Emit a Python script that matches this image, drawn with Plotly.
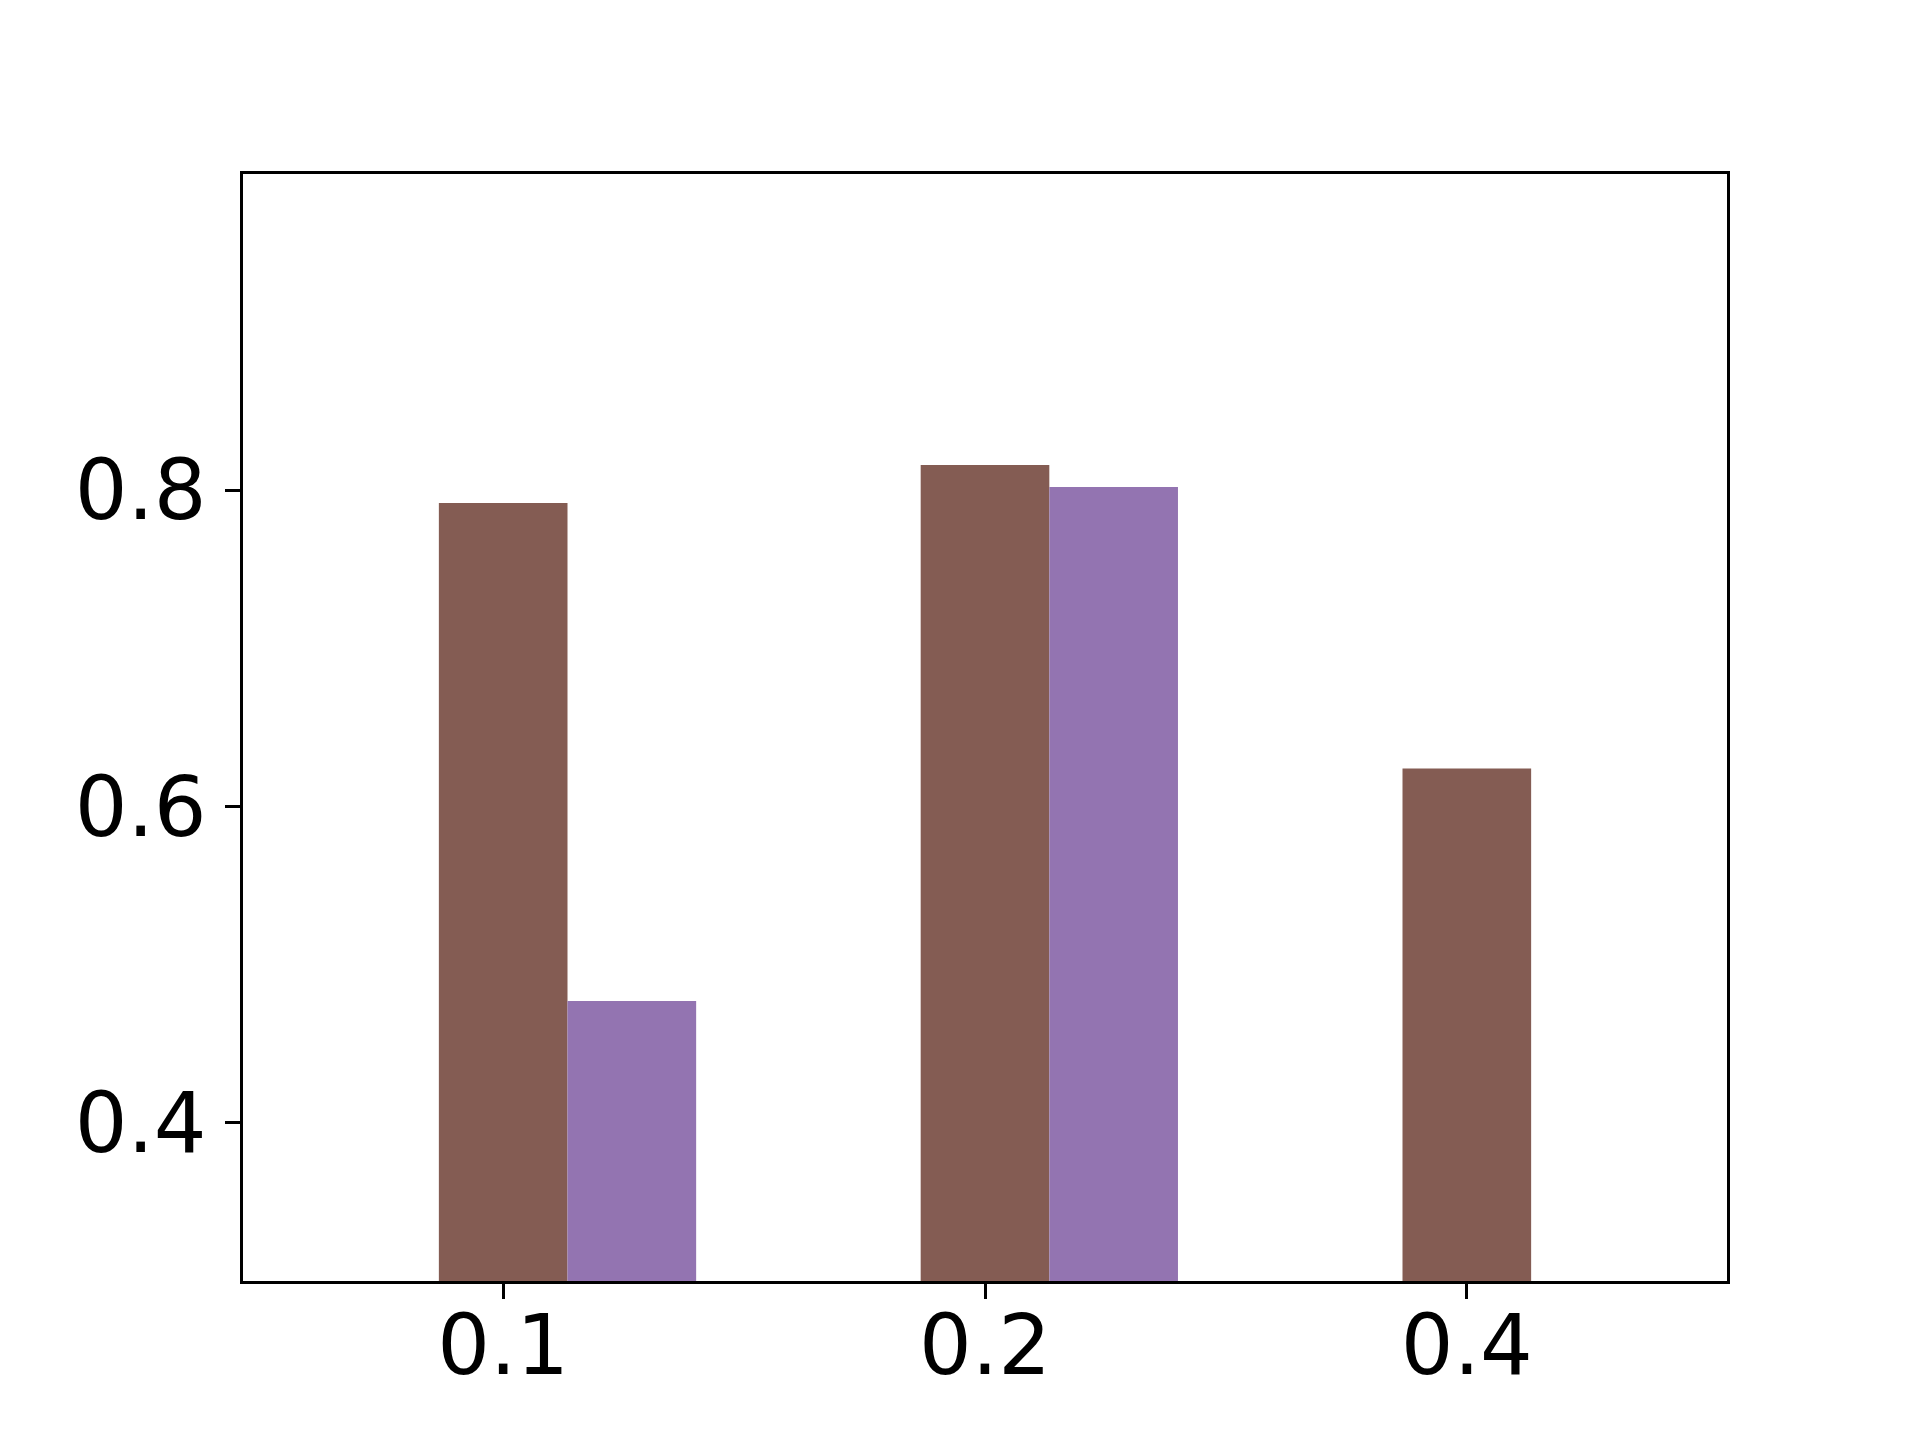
import plotly.graph_objects as go

categories = ["0.1", "0.2", "0.4"]
brown_values = [0.792, 0.816, 0.624]
purple_values = [0.477, 0.802, None]
y_ticks = [0.4, 0.6, 0.8]

pos = list(range(len(categories)))
bw = 0.267

fig = go.Figure()
fig.add_trace(go.Bar(x=pos, y=brown_values, width=bw, offset=-bw / 2,
                     marker=dict(color="#845c53", line=dict(width=0)), name="brown"))
fig.add_trace(go.Bar(x=pos, y=purple_values, width=bw, offset=bw / 2,
                     marker=dict(color="#9374b1", line=dict(width=0)), name="purple"))

axis_common = dict(showline=True, linecolor="black", linewidth=2.5, mirror=True,
                   ticks="outside", ticklen=15, tickwidth=2.5, tickcolor="black",
                   showgrid=False, zeroline=False,
                   tickfont=dict(family="DejaVu Sans", size=83, color="black"))

fig.update_layout(
    width=1920, height=1440,
    margin=dict(l=235, r=201, t=166, b=167),
    plot_bgcolor="white", paper_bgcolor="white",
    showlegend=False, barmode="overlay",
    xaxis=dict(range=[-0.54, 2.54], tickvals=pos, ticktext=categories,
               ticklabelstandoff=-24, **axis_common),
    yaxis=dict(range=[0.3, 1.0], tickvals=y_ticks, ticktext=["0.4", "0.6", "0.8"],
               ticklabelstandoff=2, **axis_common),
)
fig.write_html("out.html")
